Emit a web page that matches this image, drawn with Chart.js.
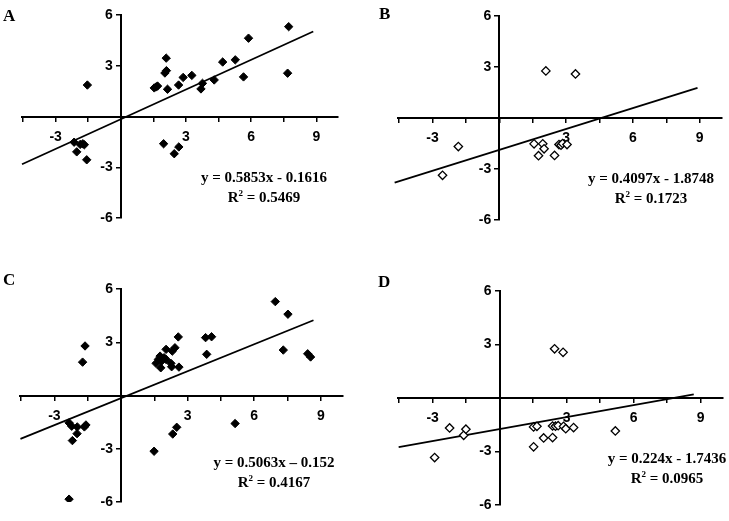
<!DOCTYPE html>
<html>
<head>
<meta charset="utf-8">
<script src="https://cdn.jsdelivr.net/npm/chart.js@4.4.1/dist/chart.umd.min.js"></script>
<style>
    html, body { margin: 0; padding: 0; background: #fff; }
    #page { position: relative; width: 729px; height: 521px; overflow: hidden; }
    .panel { position: absolute; }
    .letter { position: absolute; font: bold 17px "Liberation Serif", serif; color: #000; }
    .eq { position: absolute; width: 200px; text-align: center; font: bold 15px/20px "Liberation Serif", serif; color: #000; }
    .eq sup { font-size: 9px; line-height: 0; vertical-align: 6px; }
</style>
</head>
<body>
<div id="page">
    <div class="panel" style="left:0;top:0;width:364px;height:260px"><canvas id="chartA"></canvas></div>
    <div class="panel" style="left:364px;top:0;width:365px;height:260px"><canvas id="chartB"></canvas></div>
    <div class="panel" style="left:0;top:262px;width:364px;height:259px"><canvas id="chartC"></canvas></div>
    <div class="panel" style="left:364px;top:262px;width:365px;height:259px"><canvas id="chartD"></canvas></div>

    <div class="letter" style="left:3px;top:6px">A</div>
    <div class="letter" style="left:379px;top:4px">B</div>
    <div class="letter" style="left:3px;top:270px">C</div>
    <div class="letter" style="left:378px;top:272px">D</div>

    <div class="eq" style="left:164px;top:167px">y = 0.5853x - 0.1616<br>R<sup>2</sup> = 0.5469</div>
    <div class="eq" style="left:551px;top:168px">y = 0.4097x - 1.8748<br>R<sup>2</sup> = 0.1723</div>
    <div class="eq" style="left:174px;top:452px">y = 0.5063x &ndash; 0.152<br>R<sup>2</sup> = 0.4167</div>
    <div class="eq" style="left:567px;top:448px">y = 0.224x - 1.7436<br>R<sup>2</sup> = 0.0965</div>
</div>

<script>
// tick positions shared by all four panels
const xTicks = [-4.5, -3, -1.5, 0, 1.5, 3, 4.5, 6, 7.5, 9];
const yTicks = [-6, -3, 0, 3, 6];

// panel A (filled)
const aX = [-2.15, -2.03, -1.87, -1.75, -1.68, -1.57, -1.54, 1.54, 1.63, 1.69, 2.03, 2.10, 2.09, 2.15, 2.66, 2.87, 3.27, 3.69, 3.76, 4.30, 4.69, 5.27, 5.65, 5.88, 7.68, 7.73, 1.97, 2.46, 2.67];
const aY = [-1.52, -2.09, -1.65, -1.61, -1.67, -2.56, 1.86, 1.69, 1.75, 1.80, 2.57, 2.71, 3.45, 1.61, 1.86, 2.31, 2.43, 1.63, 1.96, 2.16, 3.22, 3.35, 2.34, 4.63, 2.56, 5.31, -1.61, -2.20, -1.80];
const aTrendX = [-4.55, 8.86];
const aTrendY = [-2.825, 5.024];

// panel B (open)
const bX = [-2.55, -1.84, 1.56, 1.76, 1.95, 2.01, 2.48, 2.68, 2.77, 2.84, 3.04, 2.09, 3.42];
const bY = [-3.37, -1.68, -1.52, -2.22, -1.52, -1.81, -2.20, -1.56, -1.60, -1.50, -1.56, 2.77, 2.59];
const bTrendX = [-4.7, 8.9];
const bTrendY = [-3.8, 1.771];

// panel C (filled)
const cX = [-2.34, -2.22, -1.97, -1.98, -2.19, -1.65, -1.58, -2.34, -1.62, -1.73,
    1.58, 1.68, 1.76, 1.79, 1.83, 1.94, 2.03, 2.03, 2.25, 2.28, 2.31, 2.43, 2.58, 2.61,
    3.81, 4.08, 3.86, 6.95, 7.52, 7.31, 8.41, 8.54, 5.14, 2.51, 2.33, 1.49];
const cY = [-1.54, -1.73, -1.77, -2.15, -2.54, -1.77, -1.66, -5.84, 2.79, 1.88,
    1.81, 2.03, 2.22, 1.56, 1.94, 2.13, 2.60, 2.03, 1.81, 1.62, 2.50, 2.69, 3.30, 1.60,
    3.26, 3.31, 2.32, 5.29, 4.58, 2.56, 2.35, 2.17, -1.58, -1.79, -2.17, -3.14];
const cTrendX = [-4.53, 8.67];
const cTrendY = [-2.446, 4.238];

// panel D (open)
const dX = [-2.91, -2.24, -1.61, -1.51, 1.52, 1.67, 1.52, 1.97, 2.37, 2.37, 2.50, 2.62, 2.86, 2.96, 3.31, 5.18, 2.46, 2.84];
const dY = [-3.34, -1.68, -2.09, -1.75, -1.62, -1.59, -2.74, -2.24, -2.22, -1.57, -1.58, -1.55, -1.59, -1.72, -1.66, -1.85, 2.76, 2.56];
const dTrendX = [-4.52, 8.69];
const dTrendY = [-2.756, 0.203];

const tickFont = { family: "'Liberation Sans', Arial, sans-serif", size: 14, weight: "bold" };

function toPoints(xs, ys) {
    return xs.map((x, i) => ({ x, y: ys[i] }));
}

function axisLabel(v) {
    return v !== 0 && Math.abs(v % 3) < 1e-9 ? String(v) : "";
}

// chart.js puts labels of a value-positioned y axis right on the axis line,
// so the y labels are drawn here, a few px left of it
const yLabelPlugin = {
    id: "yLabels",
    afterDraw(chart) {
        const { ctx, scales } = chart;
        const x0 = scales.x.getPixelForValue(0);
        ctx.save();
        ctx.font = "bold 14px 'Liberation Sans', Arial, sans-serif";
        ctx.fillStyle = "#000";
        ctx.textAlign = "right";
        ctx.textBaseline = "middle";
        yTicks.forEach((v) => {
            const text = axisLabel(v);
            if (text) ctx.fillText(text, x0 - 8, scales.y.getPixelForValue(v));
        });
        ctx.restore();
    },
};

function makePanel(id, xs, ys, trendX, trendY, filled, padding) {
    new Chart(document.getElementById(id), {
        type: "scatter",
        data: {
            datasets: [
                {
                    data: toPoints(xs, ys),
                    pointStyle: "rectRot",
                    pointRadius: 4.2,
                    backgroundColor: filled ? "#000" : "#fff",
                    borderColor: "#000",
                    borderWidth: filled ? 1 : 1.3,
                },
                {
                    data: toPoints(trendX, trendY),
                    showLine: true,
                    pointRadius: 0,
                    borderColor: "#000",
                    borderWidth: 1.8,
                    clip: false,
                },
            ],
        },
        plugins: [yLabelPlugin],
        options: {
            responsive: true,
            maintainAspectRatio: false,
            animation: false,
            layout: { padding },
            plugins: { legend: { display: false }, tooltip: { enabled: false } },
            scales: {
                x: {
                    type: "linear",
                    min: -4.55,
                    max: 10,
                    position: { y: 0 },
                    afterBuildTicks: (scale) => { scale.ticks = xTicks.map((v) => ({ value: v })); },
                    ticks: { callback: axisLabel, font: tickFont, color: "#000", padding: 8, maxRotation: 0, autoSkip: false },
                    grid: { drawOnChartArea: false, drawTicks: true, tickLength: 4, color: "#000", lineWidth: 1.5 },
                    border: { display: true, color: "#000", width: 2 },
                },
                y: {
                    type: "linear",
                    min: -6,
                    max: 6,
                    position: { x: 0 },
                    afterBuildTicks: (scale) => { scale.ticks = yTicks.map((v) => ({ value: v })); },
                    ticks: { display: false },
                    grid: { drawOnChartArea: false, drawTicks: true, tickLength: 4, color: "#000", lineWidth: 1.5 },
                    border: { display: true, color: "#000", width: 2 },
                },
            },
        },
    });
}

makePanel("chartA", aX, aY, aTrendX, aTrendY, true, { left: 22, top: 15, right: 26, bottom: 42 });
makePanel("chartB", bX, bY, bTrendX, bTrendY, false, { left: 34, top: 16, right: 7, bottom: 40 });
makePanel("chartC", cX, cY, cTrendX, cTrendY, true, { left: 20, top: 27, right: 21, bottom: 19 });
makePanel("chartD", dX, dY, dTrendX, dTrendY, false, { left: 34, top: 29, right: 6, bottom: 16 });
</script>
</body>
</html>
